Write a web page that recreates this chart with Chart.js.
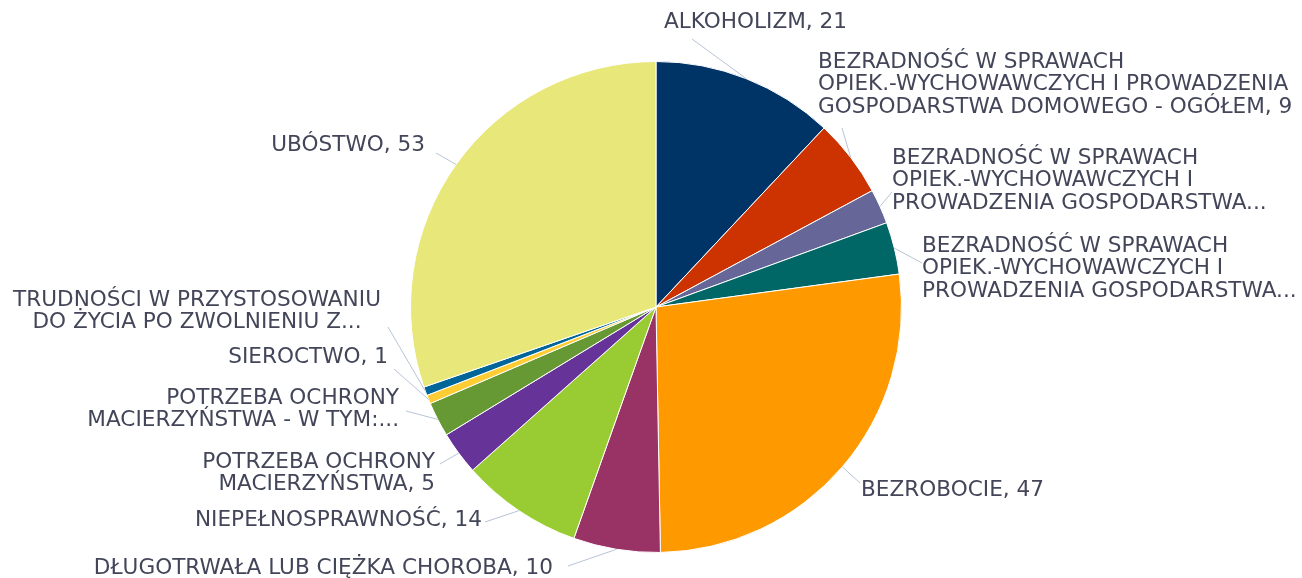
<!DOCTYPE html>
<html>
<head>
<meta charset="utf-8">
<script src="https://cdn.jsdelivr.net/npm/chart.js@4.4.1/dist/chart.umd.min.js"></script>
<style>
  html, body { margin: 0; padding: 0; background: #ffffff; }
  #c { display: block; }
</style>
</head>
<body>
<canvas id="c" width="1302" height="578"></canvas>
<script>
// ---- data ----
const categories = [
  ["ALKOHOLIZM"],
  ["BEZRADNOŚĆ W SPRAWACH", "OPIEK.-WYCHOWAWCZYCH I PROWADZENIA", "GOSPODARSTWA DOMOWEGO - OGÓŁEM"],
  ["BEZRADNOŚĆ W SPRAWACH", "OPIEK.-WYCHOWAWCZYCH I", "PROWADZENIA GOSPODARSTWA..."],
  ["BEZRADNOŚĆ W SPRAWACH", "OPIEK.-WYCHOWAWCZYCH I", "PROWADZENIA GOSPODARSTWA..."],
  ["BEZROBOCIE"],
  ["DŁUGOTRWAŁA LUB CIĘŻKA CHOROBA"],
  ["NIEPEŁNOSPRAWNOŚĆ"],
  ["POTRZEBA OCHRONY", "MACIERZYŃSTWA"],
  ["POTRZEBA OCHRONY", "MACIERZYŃSTWA - W TYM:..."],
  ["SIEROCTWO"],
  ["TRUDNOŚCI W PRZYSTOSOWANIU", "DO ŻYCIA PO ZWOLNIENIU Z..."],
  ["UBÓSTWO"]
];
const values = [21, 9, 4, 6, 47, 10, 14, 5, 4, 1, 1, 53];

// ---- styles ----
const colors = ["#003366", "#CC3300", "#666699", "#006666", "#FF9900", "#993366",
                "#99CC33", "#663399", "#669933", "#FFCC33", "#006699", "#E8E87A"];

// label placement: text anchor (x, first-line centre y, alignment) and leader-line start
const labelLayout = [
  { x: 664, y: 22,  align: "left",   lx: 692, ly: 39 },
  { x: 818, y: 62,  align: "left",   lx: 842, ly: 128 },
  { x: 892, y: 158, align: "left",   lx: 892, ly: 192 },
  { x: 922, y: 246, align: "left",   lx: 922, ly: 263 },
  { x: 861, y: 490, align: "left",   lx: 860, ly: 483 },
  { x: 553, y: 568, align: "right",  lx: 568, ly: 566 },
  { x: 482, y: 520, align: "right",  lx: 485, ly: 522 },
  { x: 435, y: 462, align: "right",  lx: 440, ly: 464 },
  { x: 399, y: 398, align: "right",  lx: 406, ly: 411 },
  { x: 388, y: 357, align: "right",  lx: 394, ly: 369 },
  { x: 197, y: 300, align: "center", lx: 388, ly: 327 },
  { x: 425, y: 145, align: "right",  lx: 436, ly: 153 }
];
const FONT = '21.6px "DejaVu Sans", sans-serif';
const LINE_H = 22.5;
const TEXT_COLOR = "#434659";
const LEADER_COLOR = "#B8C4D6";

function labelText(i) {
  const lines = categories[i].slice();
  const last = lines[lines.length - 1];
  if (!last.endsWith("...")) lines[lines.length - 1] = last + ", " + values[i];
  return lines;
}

const outsideLabels = {
  id: "outsideLabels",
  afterDatasetsDraw(chart) {
    const ctx = chart.ctx;
    const meta = chart.getDatasetMeta(0);
    ctx.save();
    meta.data.forEach((arc, i) => {
      const p = arc.getProps(["x", "y", "startAngle", "endAngle", "outerRadius"], true);
      const mid = (p.startAngle + p.endAngle) / 2;
      const ex = p.x + Math.cos(mid) * p.outerRadius;
      const ey = p.y + Math.sin(mid) * p.outerRadius;
      const L = labelLayout[i];
      ctx.strokeStyle = LEADER_COLOR;
      ctx.lineWidth = 1;
      ctx.beginPath();
      ctx.moveTo(L.lx, L.ly);
      ctx.lineTo(ex, ey);
      ctx.stroke();
      ctx.fillStyle = TEXT_COLOR;
      ctx.font = FONT;
      ctx.textAlign = L.align;
      ctx.textBaseline = "middle";
      labelText(i).forEach((t, k) => ctx.fillText(t, L.x, L.y + k * LINE_H));
    });
    ctx.restore();
  }
};

new Chart(document.getElementById("c"), {
  type: "pie",
  data: {
    labels: categories.map(c => c.join(" ")),
    datasets: [{
      data: values,
      backgroundColor: colors,
      borderColor: "#ffffff",
      borderWidth: 1
    }]
  },
  options: {
    responsive: false,
    animation: false,
    layout: { padding: { left: 410, right: 400, top: 61, bottom: 25 } },
    plugins: { legend: { display: false }, tooltip: { enabled: false } }
  },
  plugins: [outsideLabels]
});
</script>
</body>
</html>
